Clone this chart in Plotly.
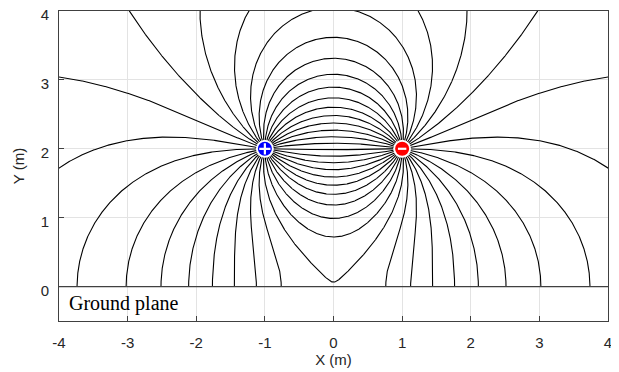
import numpy as np
import plotly.graph_objects as go

# ---- data -------------------------------------------------------------
CHARGE_X = [-1.0, 1.0]          # m
CHARGE_Y = [2.0, 2.0]           # m
CHARGE_Q = [1.0, -1.0]          # relative line-charge strength
CHARGE_COLORS = ["#0000ff", "#ff0000"]
CHARGE_SIGNS = ["cross-thin", "line-ew"]
N_LINES = 36                    # field lines leaving the + charge (equal angles)
START_RADIUS = 0.01             # m, where the field lines are seeded
GROUND_Y = 0.0                  # conducting ground plane

X_TICKS = [-4, -3, -2, -1, 0, 1, 2, 3, 4]
X_TICK_TEXT = ["-4", "-3", "-2", "-1", "0", "1", "2", "3", "4"]
Y_TICKS = [0, 1, 2, 3, 4]
Y_TICK_TEXT = ["0", "1", "2", "3", "4"]
X_RANGE = [-4, 4]
Y_RANGE = [-0.5, 4]

# ---- field (charges + their images in the ground plane) ---------------
SX = np.array(CHARGE_X + CHARGE_X)
SY = np.array(CHARGE_Y + [2 * GROUND_Y - y for y in CHARGE_Y])
SQ = np.array(CHARGE_Q + [-q for q in CHARGE_Q])


def direction(px, py):
    dx = px[:, None] - SX[None, :]
    dy = py[:, None] - SY[None, :]
    r2 = dx * dx + dy * dy
    ex = (SQ * dx / r2).sum(1)
    ey = (SQ * dy / r2).sum(1)
    n = np.hypot(ex, ey) + 1e-15
    return ex / n, ey / n


src = int(np.argmax(CHARGE_Q))
snk = int(np.argmin(CHARGE_Q))
r0 = START_RADIUS
ang = 2 * np.pi * np.arange(N_LINES) / N_LINES
px = CHARGE_X[src] + r0 * np.cos(ang)
py = CHARGE_Y[src] + r0 * np.sin(ang)
paths = [[(CHARGE_X[src], CHARGE_Y[src])] for i in range(N_LINES)]
active = np.ones(N_LINES, bool)
to_sink = np.zeros(N_LINES, bool)
ds = 0.003
for step in range(15000):
    if not active.any():
        break
    idx = np.where(active)[0]
    x, y = px[idx], py[idx]
    k1x, k1y = direction(x, y)
    k2x, k2y = direction(x + 0.5 * ds * k1x, y + 0.5 * ds * k1y)
    k3x, k3y = direction(x + 0.5 * ds * k2x, y + 0.5 * ds * k2y)
    k4x, k4y = direction(x + ds * k3x, y + ds * k3y)
    nx = x + ds / 6 * (k1x + 2 * k2x + 2 * k3x + k4x)
    ny = y + ds / 6 * (k1y + 2 * k2y + 2 * k3y + k4y)
    for j, i in enumerate(idx):
        X, Y = nx[j], ny[j]
        if Y <= GROUND_Y:
            x0, y0 = px[i], py[i]
            t = (y0 - GROUND_Y) / (y0 - Y)
            paths[i].append((x0 + t * (X - x0), GROUND_Y))
            active[i] = False
        elif np.hypot(X - CHARGE_X[snk], Y - CHARGE_Y[snk]) < 0.01:
            paths[i].append((CHARGE_X[snk], CHARGE_Y[snk]))
            active[i] = False
            to_sink[i] = True
        elif abs(X) > 8 or Y > 10:
            paths[i].append((X, Y))
            active[i] = False
        else:
            if step % 2 == 0:
                paths[i].append((X, Y))
        px[i], py[i] = X, Y

lines = [np.array(p) for p in paths]
for i in range(N_LINES):
    if not to_sink[i]:
        m = lines[i].copy()
        m[:, 0] = -m[:, 0]
        lines.append(m)

fig = go.Figure()
for ln in lines:
    fig.add_trace(go.Scatter(x=ln[:, 0], y=ln[:, 1], mode="lines",
                             line=dict(color="black", width=1.1),
                             hoverinfo="skip", showlegend=False))

fig.add_trace(go.Scatter(x=CHARGE_X, y=CHARGE_Y, mode="markers",
                         marker=dict(size=16, color=CHARGE_COLORS,
                                     line=dict(color="white", width=2)),
                         showlegend=False, hoverinfo="skip"))
for cx, cy, sym in zip(CHARGE_X, CHARGE_Y, CHARGE_SIGNS):
    fig.add_trace(go.Scatter(x=[cx], y=[cy], mode="markers",
                             marker=dict(symbol=sym, size=8 if sym == "cross-thin" else 6,
                                         color="white",
                                         line=dict(color="white", width=2.2)),
                             showlegend=False, hoverinfo="skip"))

fig.add_shape(type="line", x0=X_RANGE[0], x1=X_RANGE[1], y0=GROUND_Y, y1=GROUND_Y,
              xref="x", yref="y", line=dict(color="#404040", width=1.3))
fig.add_annotation(x=-3.88, y=-0.25, xref="x", yref="y", text="Ground plane",
                   showarrow=False, xanchor="left", yanchor="middle",
                   font=dict(family="Liberation Serif, Times New Roman, serif",
                             size=20, color="black"))

FONT = "Liberation Sans, Arial, sans-serif"
axis_common = dict(showgrid=True, gridcolor="#e3e3e3", gridwidth=1,
                   zeroline=False, showline=True, linecolor="#404040", linewidth=1,
                   mirror=True, ticks="inside", ticklen=5, tickcolor="#404040",
                   automargin=False, ticklabeloverflow="allow",
                   tickfont=dict(family=FONT, size=15, color="#262626"))
fig.update_xaxes(range=X_RANGE, tickvals=X_TICKS, ticktext=X_TICK_TEXT,
                 ticklabelstandoff=8,
                 title=dict(text="X (m)", standoff=4,
                            font=dict(family=FONT, size=15, color="#262626")),
                 **axis_common)
fig.update_yaxes(range=Y_RANGE, tickvals=Y_TICKS, ticktext=Y_TICK_TEXT,
                 ticklabelstandoff=6, ticklabelshift=4,
                 title=dict(text="Y (m)", standoff=12,
                            font=dict(family=FONT, size=15, color="#262626")),
                 **axis_common)
# the page adds an 8 px body margin, so the figure is 8 px smaller than the window
fig.update_layout(width=611, height=364, plot_bgcolor="white", paper_bgcolor="white",
                  margin=dict(l=51, r=11, t=3, b=51))
fig.write_html("out.html")
